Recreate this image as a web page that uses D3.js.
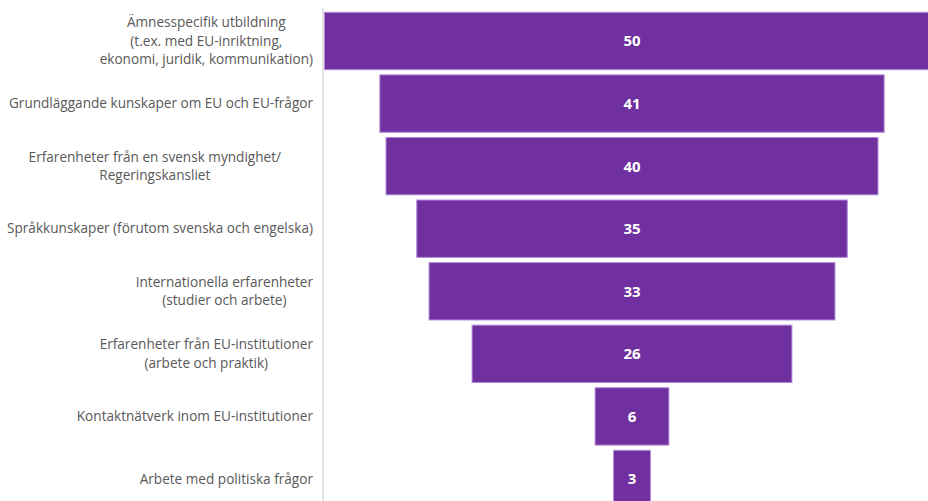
<!DOCTYPE html>
<html>
<head>
<meta charset="utf-8">
<script src="https://cdn.jsdelivr.net/npm/d3@7/dist/d3.min.js"></script>
<style>
  html, body { margin: 0; padding: 0; background: #ffffff; }
  svg { display: block; }
</style>
</head>
<body>
<svg id="chart" width="928" height="501"></svg>
<script>
// Categories (each entry is the lines of one wrapped label)
const categories = [
  ["Ämnesspecifik utbildning", "(t.ex. med EU-inriktning,", "ekonomi, juridik, kommunikation)"],
  ["Grundläggande kunskaper om EU och EU-frågor"],
  ["Erfarenheter från en svensk myndighet/", "Regeringskansliet"],
  ["Språkkunskaper (förutom svenska och engelska)"],
  ["Internationella erfarenheter", "(studier och arbete)"],
  ["Erfarenheter från EU-institutioner", "(arbete och praktik)"],
  ["Kontaktnätverk inom EU-institutioner"],
  ["Arbete med politiska frågor"]
];
const values = [50, 41, 40, 35, 33, 26, 6, 3];

const svg = d3.select("#chart");
const W = 928, H = 501;

const barColor = "#7030a0";
const barStroke = "#b48ad8";
const labelColor = "#595959";
const labelFont = "'Open Sans', 'Noto Sans', sans-serif";

const centerX = 632;
const unit = 12.3;           // pixels per value unit
const halfMax = d3.max(values) / 2;
const x = d3.scaleLinear()
  .domain([-halfMax, halfMax])
  .range([centerX - halfMax * unit, centerX + halfMax * unit]);

const keys = categories.map((c, i) => i);
const step = 62.57;
const y = d3.scaleBand()
  .domain(keys)
  .range([41 - step / 2, 41 - step / 2 + keys.length * step])
  .paddingInner(0.083)
  .paddingOuter(0.0415);

// vertical category axis line
const axisX = 323;
svg.append("line")
  .attr("x1", axisX).attr("x2", axisX)
  .attr("y1", 8).attr("y2", H)
  .attr("stroke", "#d9d9d9")
  .attr("stroke-width", 1.5);

// funnel bars, centred on a common axis
svg.append("g").selectAll("rect")
  .data(values)
  .join("rect")
  .attr("x", d => x(-d / 2))
  .attr("width", d => x(d / 2) - x(-d / 2))
  .attr("y", (d, i) => y(i))
  .attr("height", y.bandwidth())
  .attr("fill", barColor)
  .attr("stroke", barStroke)
  .attr("stroke-width", 1);

// value labels
svg.append("g").selectAll("text")
  .data(values)
  .join("text")
  .attr("x", centerX)
  .attr("y", (d, i) => y(i) + y.bandwidth() / 2)
  .attr("dy", "0.36em")
  .attr("text-anchor", "middle")
  .attr("fill", "#ffffff")
  .style("font-family", labelFont)
  .style("font-weight", 700)
  .style("font-size", "15px")
  .text(d => d);

// category labels: each block right-aligned, its lines centred on each other
const labelRight = 313;
const lineH = 18.5;
const blockShift = { 2: -32 };
const labels = svg.append("g");
categories.forEach((lines, i) => {
  const g = labels.append("g");
  const cy = y(i) + y.bandwidth() / 2;
  const texts = g.selectAll("text")
    .data(lines)
    .join("text")
    .attr("y", (d, j) => cy + (j - (lines.length - 1) / 2) * lineH)
    .attr("dy", "0.35em")
    .attr("text-anchor", "middle")
    .attr("fill", labelColor)
    .style("font-family", labelFont)
    .style("font-size", "13.6px")
    .text(d => d);
  let maxW = 0;
  texts.each(function () { maxW = Math.max(maxW, this.getComputedTextLength()); });
  texts.attr("x", labelRight + (blockShift[i] || 0) - maxW / 2);
});
</script>
</body>
</html>
